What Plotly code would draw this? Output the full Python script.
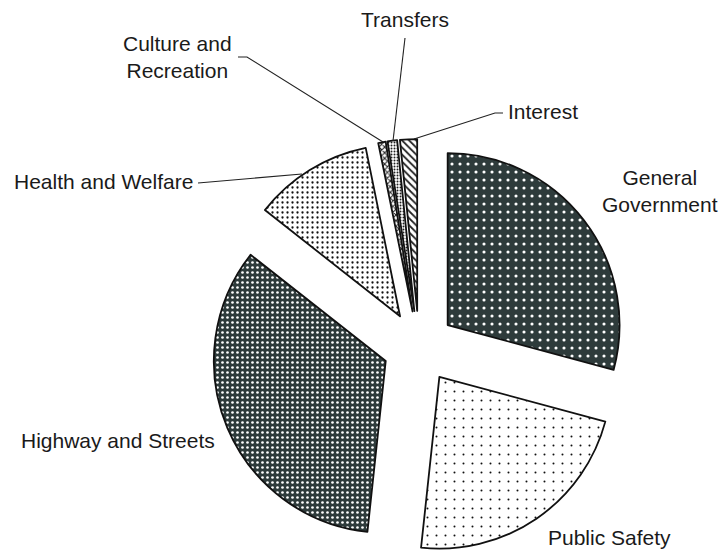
import plotly.graph_objects as go

W, H = 719, 555

# Data (percent of total expenditures)
categories = ["General Government", "Public Safety", "Highway and Streets",
              "Health and Welfare", "Culture and Recreation", "Transfers", "Interest"]
values = [29.2, 22.5, 33.9, 11.2, 0.7, 0.9, 1.6]

dark = "#2e3b3b"
pat_shapes = [".", ".", ".", ".", "x", ".", "\\"]
pat_fg = ["#ffffff", "#111111", "#ffffff", "#111111", "#222222", "#222222", "#222222"]
pat_bg = [dark, "#ffffff", dark, "#ffffff", "#ffffff", "#ffffff", "#ffffff"]
pat_size = [8, 9, 5, 5, 4, 3, 5]
pat_solid = [0.12, 0.04, 0.22, 0.16, 0.45, 0.35, 0.35]


def px(x, y):
    return x / W, 1 - y / H


fig = go.Figure()
fig.add_trace(go.Pie(
    labels=categories,
    values=values,
    sort=False,
    direction="clockwise",
    rotation=0,
    pull=[0.21] * len(values),
    textinfo="none",
    hoverinfo="label+percent",
    showlegend=False,
    marker=dict(
        colors=pat_bg,
        line=dict(color="#111111", width=1.8),
        pattern=dict(shape=pat_shapes, fgcolor=pat_fg, bgcolor=pat_bg,
                     size=pat_size, solidity=pat_solid, fillmode="replace"),
    ),
    domain=dict(x=[211 / W, 627 / W], y=[0, 1 - 139 / H]),
))

font = dict(family="Arial, Liberation Sans, sans-serif", size=21, color="#1a1a1a")

labels_pos = [
    ("Transfers", 405, 20),
    ("Culture and<br>Recreation", 177, 57),
    ("Interest", 543, 112),
    ("Health and Welfare", 103, 181),
    ("General<br>Government", 660, 191),
    ("Highway and Streets", 118, 440),
    ("Public Safety", 609, 537),
]
anns = []
for t, x, y in labels_pos:
    xx, yy = px(x, y)
    anns.append(dict(text=t, x=xx, y=yy, xref="paper", yref="paper",
                     xanchor="center", yanchor="middle", showarrow=False,
                     font=font, align="center"))

leaders = [
    [(405, 38), (393, 141)],
    [(238, 57), (247, 57), (383, 142)],
    [(503, 113), (495, 113), (414, 139)],
    [(198, 183), (302, 174)],
]
shapes = []
for pts in leaders:
    path = ""
    for i, (x, y) in enumerate(pts):
        xx, yy = px(x, y)
        path += ("M" if i == 0 else "L") + f"{xx},{yy} "
    shapes.append(dict(type="path", path=path.strip(), xref="paper", yref="paper",
                       line=dict(color="#222222", width=1.1)))

fig.update_layout(
    width=W, height=H,
    margin=dict(l=0, r=0, t=0, b=0),
    paper_bgcolor="white", plot_bgcolor="white",
    annotations=anns, shapes=shapes,
)

fig.write_html("out.html")
